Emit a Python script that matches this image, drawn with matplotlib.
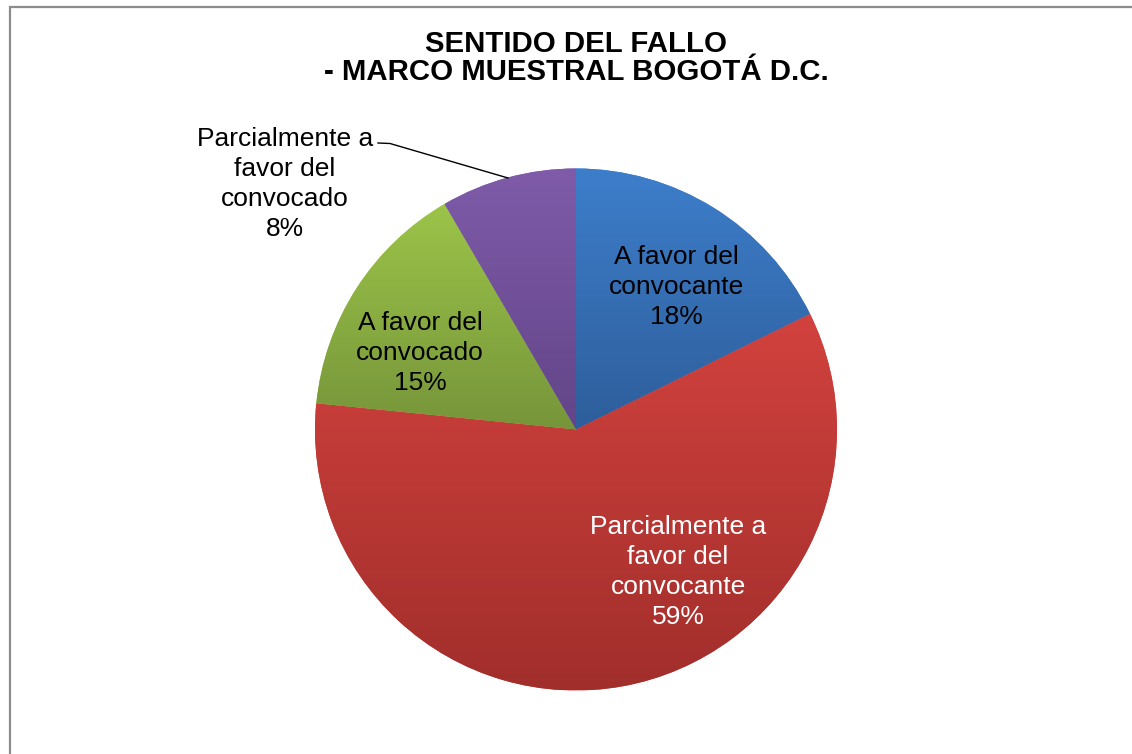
import numpy as np
import matplotlib
matplotlib.use("Agg")
import matplotlib.pyplot as plt
from matplotlib.patches import Rectangle
from matplotlib.colors import LinearSegmentedColormap

# ---- data ----
categories = ["A favor del\nconvocante",
              "Parcialmente a\nfavor del\nconvocante",
              "A favor del\nconvocado",
              "Parcialmente a\nfavor del\nconvocado"]
values = [17.7, 58.9, 15.0, 8.4]
pct_labels = ["18%", "59%", "15%", "8%"]
title = "SENTIDO DEL FALLO\n- MARCO MUESTRAL BOGOTÁ D.C."

top_colors = ["#3D7ECB", "#D2423E", "#9CC449", "#7F5BA9"]
bot_colors = ["#2E5E9B", "#A12E2B", "#76953A", "#624588"]
text_colors = ["black", "white", "black", "black"]

W, H = 1132, 754
plt.rcParams['font.family'] = ['Liberation Sans', 'DejaVu Sans']
fig = plt.figure(figsize=(W / 100, H / 100), dpi=100)
ax = fig.add_axes([0, 0, 1, 1])

def py(y):
    return H - y

cx, cy, R = 576, py(429.5), 261
wedges, _ = ax.pie(values, startangle=90, counterclock=False,
                   center=(cx, cy), radius=R, frame=True,
                   wedgeprops=dict(linewidth=0))

grad = np.linspace(0, 1, 256).reshape(-1, 1)
for w, c0, c1 in zip(wedges, top_colors, bot_colors):
    bb = w.get_path().get_extents(w.get_patch_transform())
    cmap = LinearSegmentedColormap.from_list("g", [c1, c0])
    w.set_facecolor(c0)
    im = ax.imshow(grad, cmap=cmap, origin="lower", aspect="auto",
                   extent=[bb.x0, bb.x1, bb.y0, bb.y1], zorder=w.get_zorder() + 0.1,
                   interpolation="bilinear")
    im.set_clip_path(w)
ax.set_xlim(0, W)
ax.set_ylim(0, H)
ax.axis("off")

label_pos = [(676, 287), (678, 572), (420, 353), (285, 184)]
fs = 19
for cat, pct, (x, y), tc in zip(categories, pct_labels, label_pos, text_colors):
    ax.text(x, py(y), cat + "\n" + pct, ha="center", va="center", fontsize=fs,
            color=tc, linespacing=1.33, zorder=10)

# leader line for the small slice
ax.plot([378, 390, 508], [py(143), py(143.5), py(178)], color="black", lw=1.0, zorder=9)

ax.text(576, py(58), title, ha="center", va="center", fontsize=21.2,
        fontweight="bold", linespacing=1.04, zorder=10)

# chart border (partially outside the image)
ax.add_patch(Rectangle((9.5, py(1000)), 1400, 1000 - 7, fill=False,
                       edgecolor="#8C8C8C", lw=1.6, zorder=11, clip_on=False))

fig.savefig("out.png", dpi=100)
